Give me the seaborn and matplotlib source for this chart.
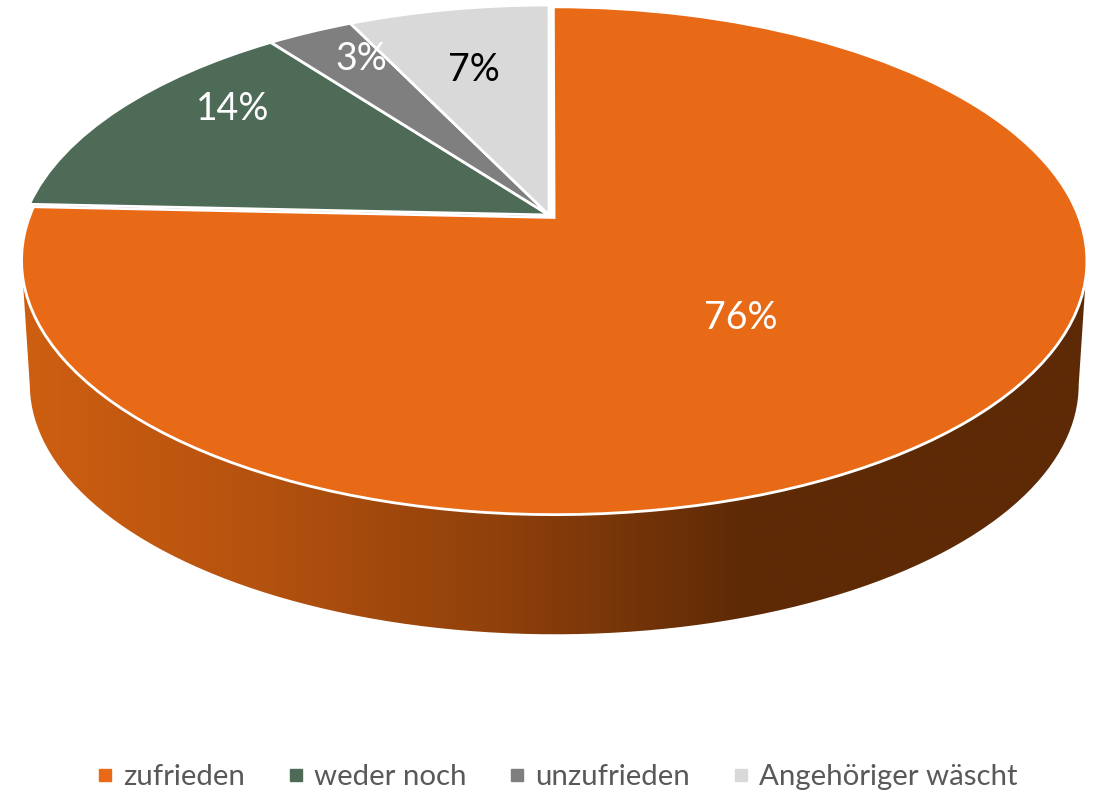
import numpy as np
import seaborn as sns
import matplotlib.pyplot as plt
from matplotlib.colors import LinearSegmentedColormap
from matplotlib.lines import Line2D
from matplotlib.patches import PathPatch, Wedge
from matplotlib.path import Path
from matplotlib.transforms import Affine2D, Transform

categories = ['zufrieden', 'weder noch', 'unzufrieden', 'Angehöriger wäscht']
shares = [75.7, 14.0, 3.1, 7.2]
slice_colors = ['#E96A16', '#4E6B58', '#7F7F7F', '#D9D9D9']
label_colors = ['white', 'white', 'white', 'black']

sns.set_theme(style='white')
plt.rcParams['font.family'] = ['Lato', 'DejaVu Sans']


class Tilt(Transform):
    """Perspective view of the unit disc, result is in picture pixels."""
    input_dims = 2
    output_dims = 2

    def transform_non_affine(self, xy):
        xy = np.asarray(xy, dtype=float)
        w = 1 + 0.17 * xy[:, 1]
        return np.column_stack([549 + 524 * xy[:, 0] / w, 215 - 245.7 * xy[:, 1] / w])


tilt = Tilt()
explode = [0.014, 0, 0, 0]

fig = plt.figure(figsize=(10.96, 7.92), dpi=100)
ax = fig.add_axes([0, 0, 1, 1])

wedges, _, pct = ax.pie(
    shares,
    colors=slice_colors,
    startangle=90,
    counterclock=False,
    explode=explode,
    autopct='%.0f%%',
    wedgeprops={'edgecolor': 'white', 'linewidth': 2, 'zorder': 3},
)
for w in wedges:
    w.set_transform(tilt + ax.transData)

# %% Labels

label_pos = [(741, 318), (233, 109), (361, 59), (474, 70)]
for t, pos, c in zip(pct, label_pos, label_colors):
    t.set_transform(ax.transData)
    t.set_position(pos)
    t.set(color=c, fontsize=27, ha='center', va='center', zorder=5)

# %% Side wall of the big slice

mid = np.deg2rad((wedges[0].theta1 + wedges[0].theta2) / 2)
offset = explode[0] * np.array([np.cos(mid), np.sin(mid)])
t0 = np.arcsin(-0.17)
top_t = np.array([t0, np.pi - t0])
low_t = np.linspace(np.pi - t0, 2 * np.pi + t0, 200)
top = tilt.transform_non_affine(offset + np.column_stack([np.cos(top_t), np.sin(top_t)]))
low = tilt.transform_non_affine(offset + 0.985 * np.column_stack([np.cos(low_t), np.sin(low_t)]))
low[:, 1] += 125
outline = np.vstack([top, low, top[:1]])

shade = LinearSegmentedColormap.from_list('shade', [
    (0, '#CE5F11'), (0.22, '#B5520F'), (0.45, '#8F400B'), (0.68, '#5E2A06'), (1, '#5E2A06'),
])
clip = PathPatch(Path(outline), transform=ax.transData, facecolor='none', edgecolor='none')
ax.add_patch(clip)
img = ax.imshow(
    np.linspace(0, 1, 512)[None, :],
    cmap=shade,
    extent=(22, 1086, 640, 0),
    aspect='auto',
    zorder=1,
)
img.set_clip_path(clip)

# tiny bit of the green side showing next to the big slice
sliver = Wedge(
    (0, 0), 1, wedges[1].theta1, wedges[1].theta2,
    facecolor='#24352B', edgecolor='none', zorder=2,
    transform=tilt + Affine2D().translate(0, 10) + ax.transData,
)
ax.add_patch(sliver)

ax.set_aspect('auto')
ax.set_xlim(0, 1096)
ax.set_ylim(792, 0)
ax.axis('off')

# %% Legend

handles = [
    Line2D([], [], linestyle='none', marker='s', markersize=8.5, color=c)
    for c in slice_colors
]
fig.legend(
    handles,
    categories,
    ncol=4,
    loc='center',
    bbox_to_anchor=(557 / 1096, 1 - 777 / 792),
    frameon=False,
    fontsize=21.2,
    labelcolor='#595959',
    handlelength=0.6,
    handletextpad=0.31,
    columnspacing=1.43,
)

fig.savefig('out.png', dpi=100)
